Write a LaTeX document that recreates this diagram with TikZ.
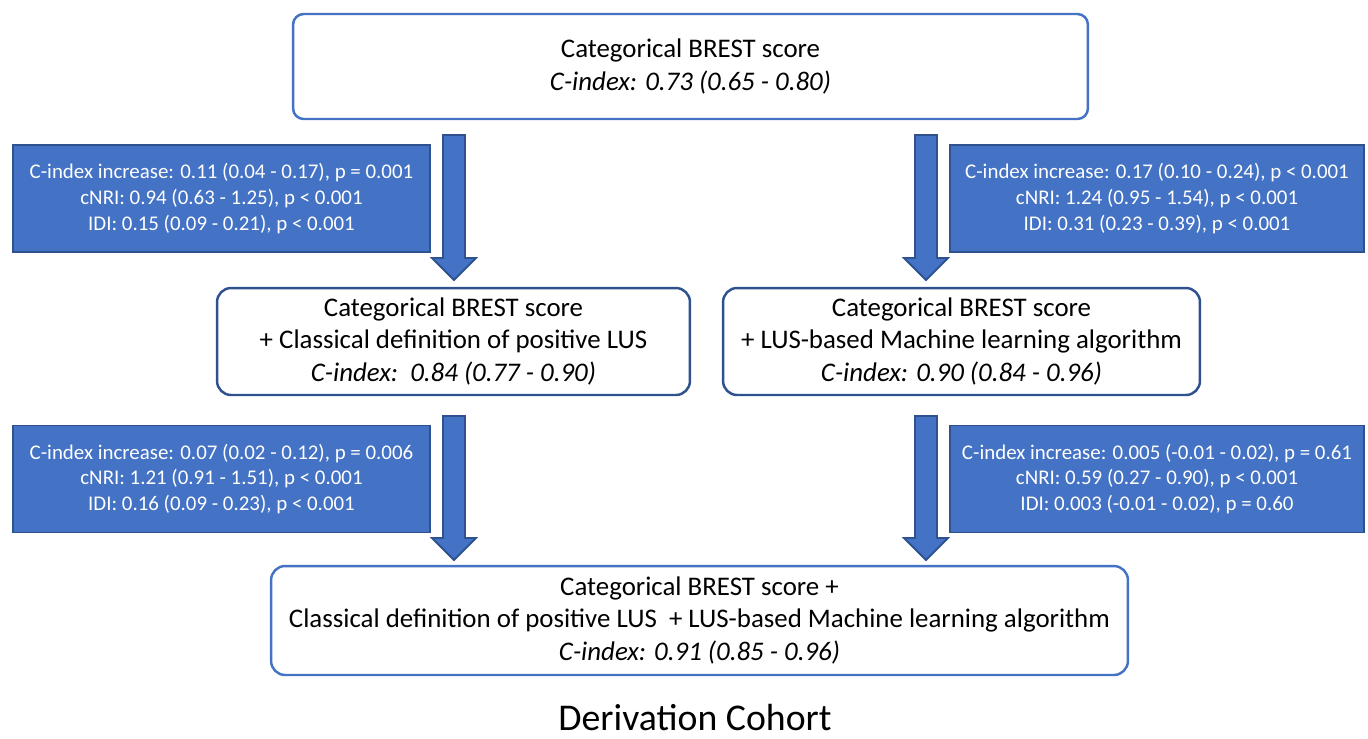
\documentclass[tikz,border=0pt]{standalone}
\usepackage{fontspec}
\setmainfont{Carlito}
\usepackage{tikz}
\usetikzlibrary{calc,positioning}
\definecolor{officeblue}{RGB}{68,114,196}
\definecolor{darkblue}{RGB}{47,82,143}
% block arrow from #1 (tail) to #2 (tip)
\newcommand{\fatarrow}[2]{%
  \draw[fatarrow] ($(#1)+(-11,0)$) -- ($(#2)+(-11,-22)$) -- ($(#2)+(-22,-22)$) -- (#2)
    -- ($(#2)+(22,-22)$) -- ($(#2)+(11,-22)$) -- ($(#1)+(11,0)$) -- cycle;}

\begin{document}
\begin{tikzpicture}[
    x=0.02cm, y=-0.02cm,
    model/.style={draw=officeblue, line width=1.4pt, fill=white, rounded corners=6pt, align=center, inner sep=0pt, font=\fontsize{15.3}{18.7}\selectfont},
    submodel/.style={model, draw=darkblue, rounded corners=8pt, minimum width=9.5cm, minimum height=2.14cm},
    stats/.style={draw=darkblue, line width=1.1pt, fill=officeblue, text=white, align=center, inner sep=0pt, minimum width=8.34cm, minimum height=2.14cm, font=\fontsize{11.9}{14.7}\selectfont},
    fatarrow/.style={draw=darkblue, line width=1.1pt, fill=officeblue, line join=miter}
]
    \useasboundingbox (0,0) rectangle (1368,738);

    % Models
    \node [model, minimum width=15.9cm, minimum height=2.1cm] (brest) at (690.5,66.5) {Categorical BREST score\\\textit{C-index: 0.73 (0.65 - 0.80)}};
    \node [submodel, minimum width=9.46cm] (classical) at (453.5,341.5) {Categorical BREST score\\+ Classical definition of positive LUS\\\textit{C-index:\ \ 0.84 (0.77 - 0.90)}};
    \node [submodel, minimum width=9.54cm] (machine) at (961.5,341.5) {Categorical BREST score\\+ LUS-based Machine learning algorithm\\\textit{C-index: 0.90 (0.84 - 0.96)}};
    \node [model, minimum width=17.14cm, minimum height=2.18cm, rounded corners=8pt] (combined) at (699.5,620.5) {Categorical BREST score +\\Classical definition of positive LUS \ + LUS-based Machine learning algorithm\\\textit{C-index: 0.91 (0.85 - 0.96)}};

    % Statistics
    \node [stats] (statsL1) at (221.5,198.5) {C-index increase: 0.11 (0.04 - 0.17), p = 0.001\\cNRI: 0.94 (0.63 - 1.25), p < 0.001\\IDI: 0.15 (0.09 - 0.21), p < 0.001};
    \node [stats, minimum width=8.28cm] (statsR1) at (1157,198.5) {C-index increase: 0.17 (0.10 - 0.24), p < 0.001\\cNRI: 1.24 (0.95 - 1.54), p < 0.001\\IDI: 0.31 (0.23 - 0.39), p < 0.001};
    \node [stats] (statsL2) at (221.5,479) {C-index increase: 0.07 (0.02 - 0.12), p = 0.006\\cNRI: 1.21 (0.91 - 1.51), p < 0.001\\IDI: 0.16 (0.09 - 0.23), p < 0.001};
    \node [stats, minimum width=8.28cm] (statsR2) at (1157,479) {C-index increase: 0.005 (-0.01 - 0.02), p = 0.61\\cNRI: 0.59 (0.27 - 0.90), p < 0.001\\IDI: 0.003 (-0.01 - 0.02), p = 0.60};

    % Arrows
    \coordinate (arrL1) at (454,135);  \coordinate (tipL1) at (454,280);
    \coordinate (arrR1) at (926,135);  \coordinate (tipR1) at (926,280);
    \coordinate (arrL2) at (454,416);  \coordinate (tipL2) at (454,560);
    \coordinate (arrR2) at (926,416);  \coordinate (tipR2) at (926,560);
    \fatarrow{arrL1}{tipL1}
    \fatarrow{arrR1}{tipR1}
    \fatarrow{arrL2}{tipL2}
    \fatarrow{arrR2}{tipR2}

    \node [font=\fontsize{21.5}{26}\selectfont, inner sep=0pt] (cohort) at (695,718) {Derivation Cohort};
\end{tikzpicture}
\end{document}
